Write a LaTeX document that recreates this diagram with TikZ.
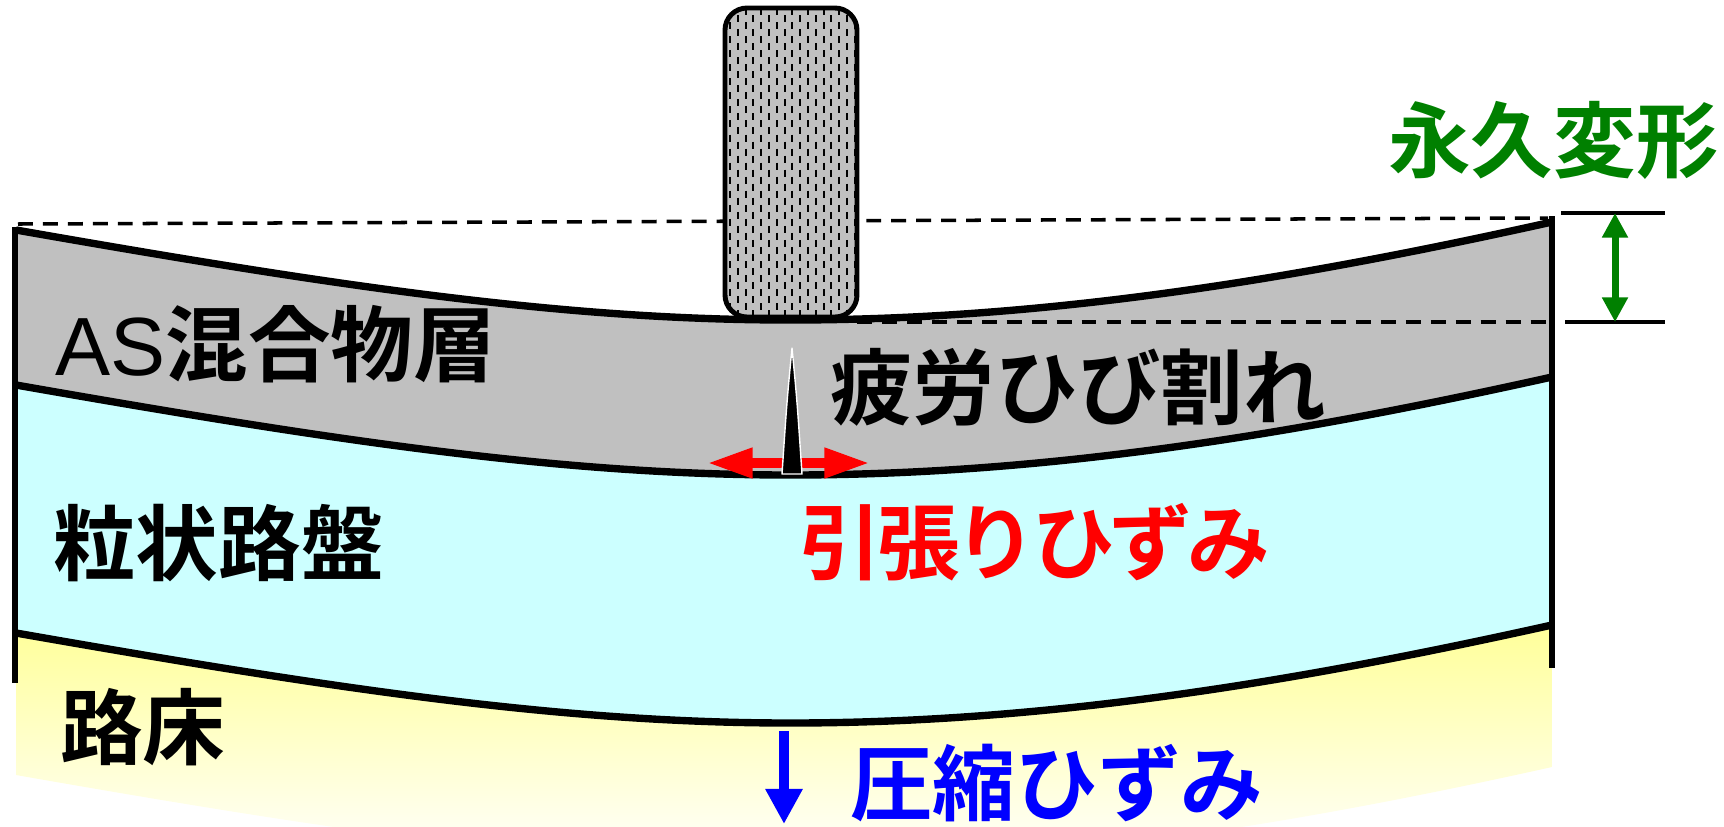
\documentclass[tikz,border=0pt]{standalone}
\usepackage{fontspec}
\setmainfont{Noto Sans CJK JP}[BoldFont={Noto Sans CJK JP Bold}]
\newfontfamily\latinfont{Liberation Sans}
\usetikzlibrary{arrows.meta}

\definecolor{asgray}{RGB}{192,192,192}
\definecolor{basecyan}{RGB}{204,255,255}
\definecolor{soilyellow}{RGB}{255,255,153}
\definecolor{rutgreen}{RGB}{0,128,0}

% deflected layer boundary, left to right and back
\newcommand{\layerline}[1]{(16,#1) .. controls (330,#1+55) and (560,#1+90) .. (790,#1+90) .. controls (1050,#1+90) and (1300,#1+48) .. (1552,#1-8)}
\newcommand{\layerback}[1]{(1552,#1-8) .. controls (1300,#1+48) and (1050,#1+90) .. (790,#1+90) .. controls (560,#1+90) and (330,#1+55) .. (16,#1)}

\tikzset{
  layertext/.style={anchor=west, inner sep=0pt, font=\bfseries\fontsize{47}{52}\selectfont},
  boundary/.style={line width=4.2pt},
  refline/.style={line width=2pt, dash pattern=on 8.5pt off 5.7pt}
}

\begin{document}
\begin{tikzpicture}[x=0.02cm, y=-0.02cm, line join=round]
\useasboundingbox (0,0) rectangle (1724,826);

\fill[asgray] \layerline{230} -- \layerback{385} -- cycle;
\fill[basecyan] \layerline{385} -- \layerback{633} -- cycle;
\shade[top color=soilyellow, bottom color=white] \layerline{633} -- \layerback{775} -- cycle;

\draw[refline] (18,224) -- (1548,218);
\draw[refline] (857,322) -- (1548,322);

\draw[boundary] \layerline{230};
\draw[boundary] \layerline{385};
\draw[boundary] \layerline{633};
\draw[line width=3.6pt] (15,227) -- (15,683);
\draw[line width=3.6pt] (1552,216) -- (1552,668);

% tyre
\begin{scope}
  \clip[rounded corners=0.44cm] (725,8) rectangle (857,317);
  \fill[asgray] (725,8) rectangle (857,317);
  \foreach \x in {730,745.6,...,857}
    \draw[line width=1.1pt, dash pattern=on 4pt off 4pt] (\x,8) -- (\x,317);
  \foreach \x in {737.8,753.4,...,857}
    \draw[line width=1.1pt, dash pattern=on 4pt off 4pt] (\x,15) -- (\x,317);
\end{scope}
\draw[line width=2.8pt, rounded corners=0.44cm] (725,8) rectangle (857,317);

% permanent deformation
\coordinate (rut top) at (1615,213);
\coordinate (rut bottom) at (1615,322);
\draw[line width=1.9pt] (1561,213) -- (1665,213);
\draw[line width=1.9pt] (1565,322) -- (1665,322);
\draw[rutgreen, line width=4pt, {Triangle[length=14pt,width=14pt]}-{Triangle[length=14pt,width=14pt]}] (rut top) -- (rut bottom);

% tensile strain and crack
\coordinate (strain left) at (707,463);
\coordinate (strain right) at (870,463);
\draw[red, line width=5.7pt, {Triangle[length=26pt,width=16pt]}-{Triangle[length=26pt,width=16pt]}] (strain left) -- (strain right);
\filldraw[fill=black, draw=white, line width=0.8pt] (782,474) .. controls (787,400) .. (792,348) .. controls (797,400) .. (802,474) -- cycle;

% compressive strain
\coordinate (press top) at (784,731);
\coordinate (press tip) at (784,824);
\draw[blue, line width=6pt, -{Triangle[length=20pt,width=20pt]}] (press top) -- (press tip);

\node[layertext] (aslayer) at (55,344) {{\mdseries\latinfont AS}混合物層};
\node[layertext] (crack) at (830,387) {疲労ひび割れ};
\node[layertext] (base) at (53,543) {粒状路盤};
\node[layertext, text=red] (tension) at (799,542) {\addfontfeatures{LetterSpace=-6}引張りひずみ};
\node[layertext] (subgrade) at (60,727) {路床};
\node[layertext, text=blue] (compression) at (850,783) {圧縮ひずみ};
\node[layertext, text=rutgreen] (rutting) at (1388,140) {永久変形};
\end{tikzpicture}
\end{document}
